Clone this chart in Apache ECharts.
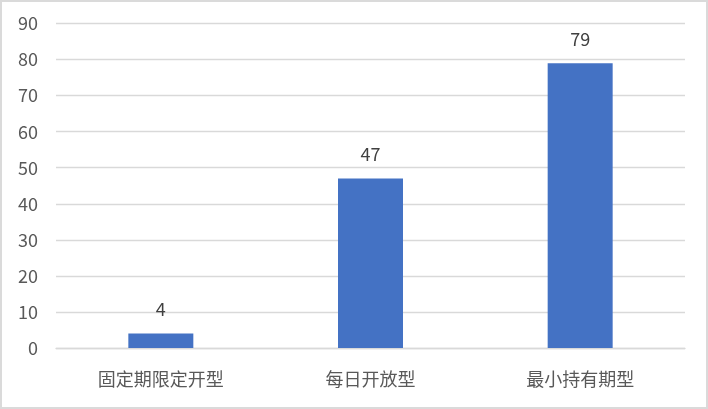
<!DOCTYPE html>
<html><head><meta charset="utf-8">
<script src="https://cdn.jsdelivr.net/npm/echarts@6/dist/echarts.min.js"></script>
<style>
html,body{margin:0;padding:0;background:#fff;}
#c{position:absolute;left:0;top:0;width:704px;height:405px;border:2px solid #dadada;}
</style></head>
<body><div id="c"></div>
<script>
const categories = ['固定期限定开型','每日开放型','最小持有期型'];
const values = [4, 47, 79];
const yTicks = {min:0, max:90, interval:10};
const chart = echarts.init(document.getElementById('c'));
chart.setOption({
  animation:false,
  grid:{left:54, right:21, top:21.5, bottom:59, containLabel:false},
  xAxis:{type:'category', data:categories,
    axisLine:{lineStyle:{color:'#d9d9d9', width:1.3}}, axisTick:{show:false},
    axisLabel:{color:'#595959', fontSize:18, margin:22, fontFamily:'Noto Sans CJK SC'}},
  yAxis:{type:'value', min:yTicks.min, max:yTicks.max, interval:yTicks.interval,
    axisLine:{show:false}, axisTick:{show:false},
    splitLine:{lineStyle:{color:'#d9d9d9', width:1.3}},
    axisLabel:{color:'#595959', fontSize:18, margin:18, fontFamily:'Noto Sans CJK SC'}},
  series:[{type:'bar', data:values, barWidth:'31%',
    itemStyle:{color:'#4472C4'},
    label:{show:true, position:'top', color:'#404040', fontSize:18, distance:15, fontFamily:'Noto Sans CJK SC'}}]
});
</script></body></html>
